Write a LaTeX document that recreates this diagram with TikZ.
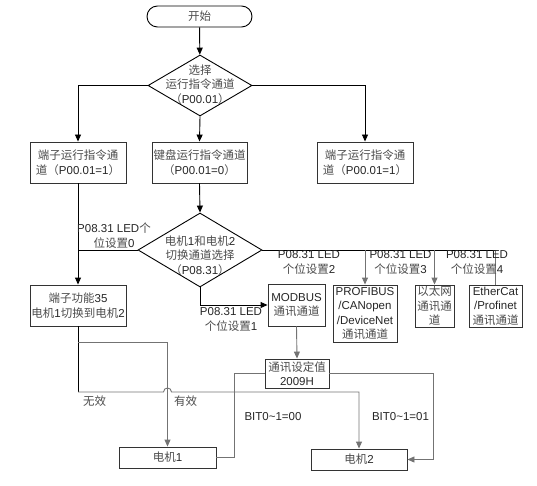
\documentclass[tikz,border=0pt]{standalone}
\usepackage{fontspec}
\setmainfont{Liberation Sans}
\newfontfamily\cjk{Noto Sans CJK SC}
\usepackage{xcolor}
\usepackage{tikz}
\usetikzlibrary{arrows.meta}
\usetikzlibrary{shapes.geometric}

\newcommand{\zh}[1]{{\cjk\color{black!70}#1}}

\begin{document}
\begin{tikzpicture}[x = 1pt, y = -1pt, >={Triangle[length = 7pt, width = 6pt]}, line width = 0.9pt,
  every node/.style = {font = \fontsize{11.5}{14.5}\selectfont, text = black!85, inner sep = 0pt},
  box/.style = {draw = black!80, minimum height = 41pt, align = center},
  decision/.style = {draw, diamond, inner sep = 0pt},
  tag/.style = {align = center},
  grey/.style = {draw = black!55}]
\def\validY{342}
\def\invalidY{392}
\useasboundingbox (0, 0) rectangle (537, 486);

% start
\node [draw, rounded corners = 10.5pt, minimum width = 105pt, minimum height = 21pt] (start) at (199.5, 16.5) {\zh{开始}};

% run command channel
\node [decision, minimum width = 104pt, minimum height = 61pt] (sel) at (200, 85.5) {};
\node [tag] (seltext) at (200, 84.5) {\zh{选择}\\\zh{运行指令通道}\\\zh{（}P00.01\zh{）}};
\draw [->] (start) -- (sel);

\node [box, minimum width = 96pt] (term) at (78, 162.5) {\zh{端子运行指令通}\\\zh{道（}P00.01=1\zh{）}};
\node [box, minimum width = 95pt] (keypad) at (199.5, 162.5) {\zh{键盘运行指令通道}\\\zh{（}P00.01=0\zh{）}};
\node [box, minimum width = 96pt] (comm) at (365, 162.5) {\zh{端子运行指令通}\\\zh{道（}P00.01=1\zh{）}};
\draw [->] (sel.west) -| (term.north);
\draw [->] (sel.south) -- (keypad.north);
\draw [->] (sel.east) -| (comm.north);

% motor 1 / motor 2 switch
\node [decision, minimum width = 124pt, minimum height = 74pt] (switch) at (200, 250) {};
\node [tag] (switchtext) at (200, 255.5) {\zh{电机}1\zh{和电机}2\\\zh{切换通道选择}\\\zh{（}P08.31\zh{）}};
\draw [->] (keypad.south) -- (switch.north);

\node [box, minimum width = 96pt] (term35) at (78, 305.5) {\zh{端子功能}35\\\zh{电机}1\zh{切换到电机}2};
\draw [->] (term.south) -- (term35.north);
\draw (switch.west) -- (term.south |- switch.west);
\node [tag] (led0) at (114, 235.5) {P08.31 LED\zh{个}\\\zh{位设置}0};

% bus channels
\node [box, minimum width = 57pt, minimum height = 42pt] (modbus) at (296.5, 305) {MODBUS\\\zh{通讯通道}};
\node [box, minimum width = 64pt, minimum height = 57pt] (profibus) at (365, 313.5) {PROFIBUS\\/CANopen\\/DeviceNet\\\zh{通讯通道}};
\node [box, minimum width = 39pt, minimum height = 42pt] (ether) at (434.5, 306) {\zh{以太网}\\\zh{通讯通}\\\zh{道}};
\node [box, minimum width = 53pt, minimum height = 42pt] (ethercat) at (495.5, 306) {EtherCat\\/Profinet\\\zh{通讯通道}};

\draw [->] (switch.south) |- (modbus.west);
\node [tag] (led1) at (231, 319.5) {P08.31 LED\\\zh{个位设置}1};

\coordinate (busend) at (ethercat.north |- switch.east);
\draw (switch.east) -- (busend);
\draw [grey] (busend) -- (ethercat.north);
\draw [->, grey] (profibus.north |- switch.east) -- (profibus.north);
\draw [->, grey] (ether.north |- switch.east) -- (ether.north);
\node [tag] (led2) at (309, 262.5) {P08.31 LED\\\zh{个位设置}2};
\node [tag] (led3) at (400.5, 262.5) {P08.31 LED\\\zh{个位设置}3};
\node [tag] (led4) at (477, 262.5) {P08.31 LED\\\zh{个位设置}4};

% comm set value
\node [box, minimum width = 64pt, minimum height = 29pt] (setval) at (297, 373.5) {\zh{通讯设定值}\\2009H};
\draw [->, grey] (modbus.south) -- (setval.north);

% motors
\node [box, minimum width = 97pt, minimum height = 21pt] (motor1) at (167.5, 457.5) {\zh{电机}1};
\node [box, minimum width = 96pt, minimum height = 21pt] (motor2) at (359, 459.5) {\zh{电机}2};

% terminal 35
\coordinate (valid) at (term35.south |- 0, \validY);
\coordinate (invalid) at (term35.south |- 0, \invalidY);
\draw (term35.south) -- (invalid);
\draw [->, grey] (valid) -| (motor1.north);
\draw [->, grey] (invalid) -- (163.5, \invalidY) .. controls (163.5, 386.7) and (171.5, 386.7) .. (171.5, \invalidY) -| (motor2.north);
\node [tag] (invalidtext) at (94.5, 401) {\zh{无效}};
\node [tag] (validtext) at (185.5, 401) {\zh{有效}};

% bit 0~1
\draw [grey] (setval.west) -- ++(-30, 0) |- (motor1.east);
\draw [->, grey] (setval.east) -- ++(104, 0) |- (motor2.east);
\node (bit00) at (273, 416.5) {BIT0\textasciitilde1=00};
\node (bit01) at (400.5, 416.5) {BIT0\textasciitilde1=01};
\end{tikzpicture}
\end{document}
